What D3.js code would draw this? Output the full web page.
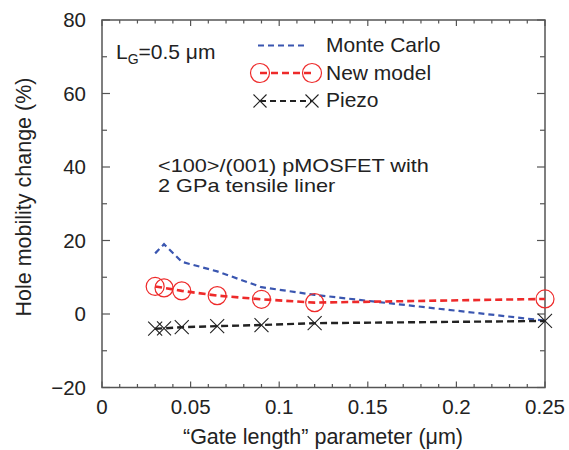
<!DOCTYPE html>
<html><head><meta charset="utf-8">
<script src="https://cdn.jsdelivr.net/npm/d3@7"></script>
<style>body{margin:0;background:#fff;} text{font-family:"Liberation Sans",Arial,sans-serif;}</style>
</head><body><svg id="c" width="569" height="450"></svg>
<script>
const gateLength = [0.03, 0.035, 0.045, 0.065, 0.09, 0.12, 0.25];
const monteCarlo = [16.5, 19.0, 14.2, 11.6, 7.3, 5.2, -1.8];
const newModel   = [7.5, 7.1, 6.3, 5.0, 4.0, 3.1, 4.1];
const piezo      = [-4.0, -3.9, -3.6, -3.3, -3.0, -2.5, -1.9];
const xTicks = [0, 0.05, 0.1, 0.15, 0.2, 0.25];
const xTickLabels = ["0", "0.05", "0.1", "0.15", "0.2", "0.25"];
const yTicks = [-20, 0, 20, 40, 60, 80];
const yTickLabels = ["\u221220", "0", "20", "40", "60", "80"];
const seriesNames = ["Monte Carlo", "New model", "Piezo"];

const svg = d3.select("#c");
const L = 102, R = 545, T = 20, B = 387.5;
const x = d3.scaleLinear().domain([0, 0.25]).range([L, R]);
const y = d3.scaleLinear().domain([-20, 80]).range([B, T]);
const frameColor = "#555";

// ticks
const g = svg.append("g").attr("stroke", frameColor).attr("stroke-width", 1.2);
const xMinor = d3.range(0, 26).map(i => i / 100);
xMinor.forEach(v => {
  const major = Math.abs(Math.round(v * 100) % 5) === 0;
  const len = major ? 6 : 3.5;
  g.append("line").attr("x1", x(v)).attr("x2", x(v)).attr("y1", B).attr("y2", B - len);
  g.append("line").attr("x1", x(v)).attr("x2", x(v)).attr("y1", T).attr("y2", T + len);
});
const yMinor = d3.range(-20, 81, 10);
yMinor.forEach(v => {
  const major = v % 20 === 0;
  const len = major ? 8 : 5;
  g.append("line").attr("x1", L).attr("x2", L + len).attr("y1", y(v)).attr("y2", y(v));
  g.append("line").attr("x1", R).attr("x2", R - len).attr("y1", y(v)).attr("y2", y(v));
});
svg.append("rect").attr("x", L).attr("y", T).attr("width", R - L).attr("height", B - T)
  .attr("fill", "none").attr("stroke", frameColor).attr("stroke-width", 1.5);

// tick labels
svg.append("g").selectAll("text").data(xTicks).join("text")
  .attr("x", d => x(d)).attr("y", 414).attr("text-anchor", "middle")
  .attr("font-size", 20.5).attr("fill", "#222").text((d, i) => xTickLabels[i]);
svg.append("g").selectAll("text").data(yTicks).join("text")
  .attr("x", 86).attr("y", d => y(d) + 7).attr("text-anchor", "end")
  .attr("font-size", 20.5).attr("fill", "#222").text((d, i) => yTickLabels[i]);

// axis titles
svg.append("text").attr("x", 323).attr("y", 444).attr("text-anchor", "middle")
  .attr("font-size", 21.5).attr("fill", "#222").text("\u201cGate length\u201d parameter (\u03bcm)");
svg.append("text").attr("transform", "translate(31,197) rotate(-90)").attr("text-anchor", "middle")
  .attr("font-size", 21.5).attr("fill", "#222").text("Hole mobility change (%)");

// lines
const line = d3.line().x((d, i) => x(gateLength[i])).y(d => y(d));
const blue = "#3a56b0", red = "#ee2a2a", black = "#222";
svg.append("path").attr("d", line(monteCarlo)).attr("fill", "none").attr("stroke", blue)
  .attr("stroke-width", 2.2).attr("stroke-dasharray", "6,4");
svg.append("path").attr("d", line(newModel)).attr("fill", "none").attr("stroke", red)
  .attr("stroke-width", 2.6).attr("stroke-dasharray", "7,4");
svg.append("path").attr("d", line(piezo)).attr("fill", "none").attr("stroke", black)
  .attr("stroke-width", 2.4).attr("stroke-dasharray", "7,4");

// markers
svg.append("g").selectAll("circle").data(newModel).join("circle")
  .attr("cx", (d, i) => x(gateLength[i])).attr("cy", d => y(d)).attr("r", 9)
  .attr("fill", "none").attr("stroke", red).attr("stroke-width", 1.2);
function cross(sel, cx, cy, s) {
  sel.append("path").attr("d", `M${cx - s},${cy - s}L${cx + s},${cy + s}M${cx - s},${cy + s}L${cx + s},${cy - s}`)
    .attr("stroke", black).attr("stroke-width", 1.1).attr("fill", "none");
}
const pg = svg.append("g");
piezo.forEach((d, i) => cross(pg, x(gateLength[i]), y(d), 7));

// legend
const lg = svg.append("g");
lg.append("line").attr("x1", 258).attr("x2", 308).attr("y1", 45.5).attr("y2", 45.5)
  .attr("stroke", blue).attr("stroke-width", 2.2).attr("stroke-dasharray", "6,4");
lg.append("line").attr("x1", 260).attr("x2", 312).attr("y1", 73).attr("y2", 73)
  .attr("stroke", red).attr("stroke-width", 2.6).attr("stroke-dasharray", "7,4");
[260, 312].forEach(cx => lg.append("circle").attr("cx", cx).attr("cy", 73).attr("r", 9.5)
  .attr("fill", "none").attr("stroke", red).attr("stroke-width", 1.2));
lg.append("line").attr("x1", 260).attr("x2", 312).attr("y1", 101).attr("y2", 101)
  .attr("stroke", black).attr("stroke-width", 2.2).attr("stroke-dasharray", "6,4");
[260, 312].forEach(cx => cross(lg, cx, 101, 6.5));
[52, 79.5, 107].forEach((yy, i) => lg.append("text").attr("x", 326).attr("y", yy)
  .attr("font-size", 21).attr("fill", "#222").text(seriesNames[i]));

// annotations
const lt = svg.append("text").attr("x", 116).attr("y", 59).attr("font-size", 21).attr("fill", "#222");
lt.append("tspan").text("L");
lt.append("tspan").attr("font-size", 14).attr("dy", 5).text("G");
lt.append("tspan").attr("dy", -5).text("=0.5 \u03bcm");
svg.append("text").attr("transform", "translate(158,172) scale(1.24,1)").attr("font-size", 17.5)
  .attr("fill", "#222").text("<100>/(001) pMOSFET with");
svg.append("text").attr("transform", "translate(158,192) scale(1.24,1)").attr("font-size", 17.5)
  .attr("fill", "#222").text("2 GPa tensile liner");
</script></body></html>
